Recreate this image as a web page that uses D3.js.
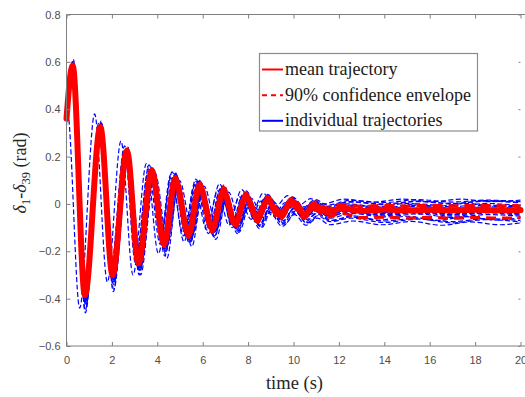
<!DOCTYPE html>
<html>
<head>
<meta charset="utf-8">
<script src="https://cdn.jsdelivr.net/npm/d3@7/dist/d3.min.js"></script>
<style>
  html, body { margin: 0; padding: 0; background: #fff; }
  svg { display: block; }
</style>
</head>
<body>
<svg id="chart" width="525" height="397"></svg>
<script>
// Rotor angle difference δ1-δ39 after the disturbance: mean, 90% envelope and sampled runs.
// Each series is a list of [time (s), angle (rad)] turning points.

const xTicks = [0, 2, 4, 6, 8, 10, 12, 14, 16, 18, 20];
const yTicks = [-0.6, -0.4, -0.2, 0, 0.2, 0.4, 0.6, 0.8];

const meanTrajectory = [[0,0.36],[0.27,0.585],[0.81,-0.385],[1.49,0.325],[2.03,-0.30],[2.66,0.225],[3.17,-0.25],[3.76,0.14],[4.3,-0.17],[4.79,0.105],[5.38,-0.13],[5.86,0.08],[6.42,-0.105],[6.92,0.055],[7.43,-0.085],[7.9,0.03],[8.42,-0.06],[8.85,0.015],[9.4,-0.048],[9.95,0.01],[10.45,-0.042],[10.95,-0.008],[11.5,-0.036],[12.1,-0.018],[13,-0.03],[14,-0.024],[15,-0.028],[16,-0.025],[17,-0.027],[18,-0.025],[19,-0.027],[20,-0.026]];

const upperEnvelope = [[0,0.365],[0.27,0.59],[0.81,-0.378],[1.49,0.332],[2.03,-0.292],[2.66,0.232],[3.17,-0.242],[3.76,0.148],[4.3,-0.16],[4.79,0.115],[5.38,-0.118],[5.86,0.092],[6.42,-0.09],[6.92,0.07],[7.43,-0.068],[7.9,0.046],[8.42,-0.042],[8.85,0.032],[9.4,-0.03],[9.95,0.026],[10.45,-0.024],[10.95,0.008],[11.5,-0.018],[12.1,-0.002],[13,-0.01],[14,-0.006],[15,-0.009],[16,-0.006],[17,-0.008],[18,-0.006],[19,-0.008],[20,-0.007]];

const lowerEnvelope = [[0,0.355],[0.27,0.58],[0.81,-0.392],[1.49,0.318],[2.03,-0.308],[2.66,0.218],[3.17,-0.258],[3.76,0.132],[4.3,-0.18],[4.79,0.095],[5.38,-0.142],[5.86,0.068],[6.42,-0.12],[6.92,0.04],[7.43,-0.102],[7.9,0.014],[8.42,-0.078],[8.85,-0.002],[9.4,-0.066],[9.95,-0.008],[10.45,-0.06],[10.95,-0.026],[11.5,-0.056],[12.1,-0.04],[13,-0.058],[14,-0.056],[15,-0.06],[16,-0.057],[17,-0.06],[18,-0.058],[19,-0.06],[20,-0.059]];

const run01 = [[0,0.33],[0.04,0.39],[0.58,-0.44],[1.24,0.38],[1.8,-0.33],[2.4,0.265],[2.93,-0.30],[3.52,0.17],[4.05,-0.21],[4.6,0.125],[5.18,-0.16],[5.7,0.095],[6.25,-0.125],[6.78,0.065],[7.3,-0.10],[7.8,0.045],[8.3,-0.075],[8.8,0.025],[9.3,-0.065],[9.85,0.012],[10.4,-0.055],[10.95,-0.005],[11.55,-0.05],[12.3,-0.015],[13.3,-0.045],[14.4,-0.02],[15.6,-0.042],[16.8,-0.022],[18,-0.04],[19.2,-0.025],[20,-0.035]];
const run02 = [[0,0.36],[0.3,0.61],[0.84,-0.43],[1.53,0.35],[2.07,-0.34],[2.7,0.24],[3.21,-0.28],[3.8,0.15],[4.34,-0.2],[4.84,0.12],[5.43,-0.155],[5.9,0.09],[6.47,-0.125],[6.97,0.06],[7.48,-0.1],[7.95,0.035],[8.47,-0.075],[8.9,0.01],[9.45,-0.065],[10.0,0.0],[10.5,-0.06],[11.0,-0.02],[11.55,-0.055],[12.5,-0.03],[14,-0.05],[15.5,-0.035],[17,-0.052],[18.5,-0.038],[20,-0.048]];
const run03 = [[0,0.36],[0.25,0.575],[0.78,-0.37],[1.46,0.31],[2.0,-0.28],[2.62,0.21],[3.14,-0.23],[3.72,0.13],[4.26,-0.15],[4.75,0.095],[5.34,-0.115],[5.82,0.07],[6.38,-0.09],[6.88,0.05],[7.39,-0.07],[7.86,0.035],[8.38,-0.05],[8.82,0.02],[9.36,-0.038],[9.9,0.015],[10.4,-0.032],[10.9,0.0],[11.45,-0.025],[12.5,-0.005],[14,-0.015],[15.5,0.0],[17,-0.012],[18.5,0.002],[20,-0.008]];
const run04 = [[0,0.36],[0.28,0.59],[0.8,-0.39],[1.5,0.33],[2.04,-0.3],[2.67,0.23],[3.18,-0.245],[3.77,0.145],[4.31,-0.16],[4.8,0.115],[5.39,-0.12],[5.87,0.09],[6.43,-0.09],[6.93,0.07],[7.44,-0.07],[7.92,0.045],[8.43,-0.045],[8.87,0.03],[9.42,-0.03],[9.97,0.025],[10.47,-0.022],[10.97,0.01],[11.5,-0.015],[12.5,0.008],[14,-0.003],[15.5,0.01],[17,0.0],[18.5,0.012],[20,0.004]];
const run05 = [[0,0.36],[0.31,0.6],[0.86,-0.41],[1.56,0.32],[2.1,-0.32],[2.73,0.21],[3.24,-0.27],[3.83,0.125],[4.38,-0.185],[4.87,0.09],[5.46,-0.15],[5.94,0.06],[6.5,-0.125],[7.0,0.035],[7.5,-0.11],[7.98,0.005],[8.5,-0.09],[8.93,-0.015],[9.48,-0.08],[10.03,-0.02],[10.53,-0.075],[11.03,-0.04],[11.6,-0.07],[12.5,-0.055],[14,-0.072],[15.5,-0.06],[17,-0.075],[18.5,-0.062],[20,-0.07]];
const run06 = [[0,0.36],[0.24,0.57],[0.76,-0.4],[1.43,0.32],[1.97,-0.31],[2.58,0.22],[3.1,-0.26],[3.68,0.135],[4.22,-0.175],[4.71,0.1],[5.3,-0.14],[5.77,0.075],[6.33,-0.11],[6.83,0.05],[7.34,-0.09],[7.8,0.025],[8.32,-0.068],[8.76,0.008],[9.3,-0.055],[9.86,0.0],[10.36,-0.05],[10.86,-0.015],[11.4,-0.045],[12.5,-0.02],[14,-0.04],[15.5,-0.025],[17,-0.042],[18.5,-0.028],[20,-0.038]];
const run07 = [[0,0.36],[0.27,0.58],[0.82,-0.38],[1.5,0.32],[2.05,-0.305],[2.68,0.225],[3.19,-0.255],[3.78,0.14],[4.32,-0.18],[4.81,0.12],[5.4,-0.14],[5.88,0.095],[6.45,-0.115],[6.95,0.065],[7.46,-0.095],[7.93,0.04],[8.45,-0.07],[8.88,0.02],[9.43,-0.058],[9.98,0.012],[10.48,-0.05],[10.98,-0.01],[11.52,-0.042],[12.5,-0.018],[14,-0.03],[15.5,-0.018],[17,-0.033],[18.5,-0.02],[20,-0.03]];
const run08 = [[0,0.36],[0.29,0.59],[0.83,-0.395],[1.52,0.33],[2.08,-0.31],[2.72,0.22],[3.25,-0.26],[3.85,0.13],[4.4,-0.175],[4.9,0.1],[5.5,-0.14],[5.98,0.07],[6.55,-0.115],[7.05,0.045],[7.56,-0.095],[8.04,0.02],[8.56,-0.08],[9.0,-0.005],[9.55,-0.07],[10.1,-0.01],[10.6,-0.065],[11.1,-0.03],[11.65,-0.06],[12.5,-0.04],[14,-0.055],[15.5,-0.042],[17,-0.058],[18.5,-0.045],[20,-0.052]];
const run09 = [[0,0.36],[0.26,0.585],[0.79,-0.38],[1.45,0.33],[1.99,-0.29],[2.62,0.23],[3.13,-0.24],[3.71,0.15],[4.25,-0.16],[4.74,0.115],[5.33,-0.12],[5.81,0.085],[6.37,-0.095],[6.86,0.06],[7.37,-0.075],[7.84,0.04],[8.36,-0.05],[8.79,0.025],[9.34,-0.04],[9.89,0.018],[10.39,-0.035],[10.89,0.002],[11.43,-0.028],[12.5,-0.008],[14,-0.02],[15.5,-0.006],[17,-0.018],[18.5,-0.005],[20,-0.015]];
const run10 = [[0,0.36],[0.29,0.6],[0.83,-0.46],[1.52,0.34],[2.06,-0.37],[2.69,0.235],[3.2,-0.3],[3.79,0.145],[4.33,-0.22],[4.82,0.11],[5.41,-0.165],[5.89,0.08],[6.45,-0.13],[6.95,0.055],[7.46,-0.105],[7.93,0.03],[8.45,-0.08],[8.88,0.01],[9.43,-0.065],[9.98,0.005],[10.48,-0.058],[10.98,-0.02],[11.53,-0.05],[12.5,-0.035],[14,-0.046],[15.5,-0.032],[17,-0.047],[18.5,-0.034],[20,-0.044]];
const run11 = [[0,0.36],[0.26,0.58],[0.8,-0.375],[1.47,0.33],[2.01,-0.29],[2.64,0.235],[3.15,-0.235],[3.74,0.155],[4.28,-0.15],[4.77,0.125],[5.36,-0.11],[5.84,0.095],[6.4,-0.08],[6.9,0.075],[7.4,-0.06],[7.88,0.05],[8.39,-0.04],[8.83,0.035],[9.38,-0.025],[9.93,0.028],[10.43,-0.018],[10.93,0.012],[11.47,-0.01],[12.5,0.01],[14,0.0],[15.5,0.012],[17,0.002],[18.5,0.014],[20,0.006]];
const run12 = [[0,0.36],[0.3,0.595],[0.85,-0.42],[1.54,0.31],[2.09,-0.33],[2.72,0.2],[3.24,-0.28],[3.83,0.115],[4.38,-0.2],[4.88,0.08],[5.47,-0.16],[5.95,0.05],[6.52,-0.135],[7.02,0.025],[7.53,-0.115],[8.0,0.0],[8.52,-0.095],[8.96,-0.02],[9.51,-0.085],[10.06,-0.03],[10.56,-0.08],[11.06,-0.05],[11.62,-0.075],[12.5,-0.06],[14,-0.078],[15.5,-0.064],[17,-0.08],[18.5,-0.066],[20,-0.076]];
const run13 = [[0,0.36],[0.27,0.59],[0.81,-0.4],[1.48,0.315],[2.02,-0.31],[2.65,0.215],[3.16,-0.26],[3.75,0.13],[4.29,-0.175],[4.78,0.1],[5.37,-0.135],[5.85,0.075],[6.41,-0.11],[6.91,0.05],[7.42,-0.09],[7.89,0.025],[8.41,-0.065],[8.84,0.012],[9.39,-0.052],[9.94,0.006],[10.44,-0.046],[10.94,-0.012],[11.49,-0.04],[12.5,-0.024],[14,-0.036],[15.5,-0.022],[17,-0.036],[18.5,-0.024],[20,-0.032]];
const run14 = [[0,0.36],[0.3,0.6],[0.84,-0.4],[1.51,0.345],[2.05,-0.32],[2.69,0.24],[3.2,-0.265],[3.8,0.15],[4.34,-0.19],[4.83,0.125],[5.42,-0.145],[5.9,0.09],[6.47,-0.115],[6.97,0.065],[7.48,-0.09],[7.96,0.04],[8.48,-0.06],[8.92,0.02],[9.47,-0.045],[10.02,0.015],[10.52,-0.038],[11.02,0.0],[11.57,-0.03],[12.5,-0.012],[14,-0.024],[15.5,-0.01],[17,-0.024],[18.5,-0.012],[20,-0.02]];
const run15 = [[0,0.36],[0.26,0.58],[0.79,-0.39],[1.46,0.32],[1.99,-0.3],[2.6,0.22],[3.1,-0.255],[3.67,0.14],[4.2,-0.17],[4.68,0.11],[5.26,-0.135],[5.73,0.085],[6.29,-0.105],[6.78,0.06],[7.28,-0.085],[7.75,0.035],[8.27,-0.06],[8.7,0.02],[9.25,-0.05],[9.8,0.01],[10.3,-0.045],[10.8,-0.005],[11.35,-0.04],[12.5,-0.022],[14,-0.042],[15.5,-0.03],[17,-0.045],[18.5,-0.032],[20,-0.042]];
const run16 = [[0,0.36],[0.28,0.595],[0.82,-0.37],[1.5,0.335],[2.04,-0.285],[2.67,0.235],[3.18,-0.23],[3.77,0.155],[4.31,-0.145],[4.8,0.13],[5.39,-0.1],[5.87,0.1],[6.43,-0.075],[6.93,0.08],[7.44,-0.055],[7.91,0.055],[8.43,-0.035],[8.86,0.04],[9.41,-0.02],[9.96,0.03],[10.46,-0.012],[10.96,0.018],[11.5,-0.005],[12.5,0.015],[14,0.006],[15.5,0.018],[17,0.008],[18.5,0.016],[20,0.01]];
const run17 = [[0,0.36],[0.28,0.6],[0.82,-0.45],[1.52,0.33],[2.08,-0.36],[2.72,0.2],[3.26,-0.3],[3.86,0.12],[4.42,-0.23],[4.93,0.085],[5.52,-0.18],[6.0,0.055],[6.58,-0.15],[7.08,0.03],[7.6,-0.12],[8.08,0.0],[8.6,-0.1],[9.05,-0.02],[9.6,-0.085],[10.15,-0.03],[10.65,-0.08],[11.15,-0.045],[11.7,-0.07],[12.6,-0.05],[13.8,-0.068],[15,-0.052],[16.3,-0.07],[17.6,-0.054],[18.9,-0.068],[20,-0.058]];
const run18 = [[0,0.36],[0.24,0.59],[0.77,-0.36],[1.42,0.34],[1.95,-0.27],[2.56,0.245],[3.07,-0.215],[3.64,0.165],[4.17,-0.13],[4.65,0.135],[5.23,-0.09],[5.7,0.105],[6.25,-0.065],[6.74,0.085],[7.24,-0.045],[7.72,0.06],[8.22,-0.025],[8.66,0.045],[9.2,-0.012],[9.75,0.035],[10.25,-0.005],[10.75,0.022],[11.3,0.0],[12.2,0.02],[13.5,0.008],[14.8,0.02],[16.1,0.01],[17.4,0.02],[18.7,0.01],[20,0.016]];
const run19 = [[0,0.36],[0.28,0.585],[0.83,-0.39],[1.52,0.32],[2.08,-0.31],[2.74,0.215],[3.28,-0.245],[3.9,0.13],[4.46,-0.165],[4.97,0.1],[5.57,-0.125],[6.06,0.075],[6.63,-0.1],[7.14,0.05],[7.65,-0.08],[8.13,0.025],[8.65,-0.058],[9.1,0.01],[9.65,-0.05],[10.2,0.0],[10.7,-0.045],[11.2,-0.015],[11.75,-0.04],[12.7,-0.02],[14,-0.035],[15.3,-0.02],[16.6,-0.036],[17.9,-0.022],[19.2,-0.034],[20,-0.026]];
const run20 = [[0,0.36],[0.29,0.59],[0.84,-0.41],[1.53,0.32],[2.08,-0.325],[2.71,0.205],[3.23,-0.275],[3.82,0.12],[4.37,-0.195],[4.87,0.085],[5.46,-0.16],[5.94,0.045],[6.51,-0.14],[7.01,0.015],[7.52,-0.125],[7.99,-0.015],[8.51,-0.105],[8.95,-0.035],[9.5,-0.095],[10.05,-0.045],[10.55,-0.09],[11.05,-0.06],[11.6,-0.088],[12.6,-0.072],[13.9,-0.088],[15.2,-0.074],[16.5,-0.09],[17.8,-0.076],[19.1,-0.088],[20,-0.08]];
const run21 = [[0,0.36],[0.25,0.58],[0.77,-0.385],[1.43,0.325],[1.95,-0.3],[2.55,0.225],[3.04,-0.25],[3.61,0.14],[4.13,-0.17],[4.6,0.11],[5.17,-0.135],[5.63,0.08],[6.18,-0.11],[6.66,0.055],[7.16,-0.09],[7.62,0.03],[8.13,-0.065],[8.56,0.012],[9.1,-0.052],[9.65,0.006],[10.15,-0.046],[10.65,-0.01],[11.2,-0.04],[12.1,-0.02],[13.4,-0.035],[14.7,-0.018],[16,-0.034],[17.3,-0.02],[18.6,-0.034],[20,-0.024]];
const run22 = [[0,0.36],[0.27,0.585],[0.81,-0.375],[1.49,0.33],[2.03,-0.29],[2.66,0.23],[3.17,-0.24],[3.76,0.15],[4.3,-0.155],[4.79,0.12],[5.38,-0.115],[5.86,0.09],[6.42,-0.088],[6.92,0.068],[7.43,-0.068],[7.9,0.045],[8.42,-0.045],[8.85,0.03],[9.4,-0.032],[9.95,0.022],[10.45,-0.025],[10.95,0.006],[11.5,-0.02],[12.4,0.0],[13.7,-0.012],[15,0.002],[16.3,-0.01],[17.6,0.002],[18.9,-0.01],[20,-0.004]];

const individualRuns = [run01, run02, run03, run04, run05, run06, run07, run08, run09, run10, run11,
                        run12, run13, run14, run15, run16, run17, run18, run19, run20, run21, run22];

const legendItems = [
  { label: "mean trajectory", color: "#ff0000", dash: null },
  { label: "90% confidence envelope", color: "#ff0000", dash: "5,4" },
  { label: "individual trajectories", color: "#0000ff", dash: null }
];

// ---- layout ----
const svg = d3.select("#chart");
const W = 525, H = 397;
const plotLeft = 66.5, plotRight = 520.5, plotTop = 14.5, plotBottom = 346;

const x = d3.scaleLinear().domain([0, 20]).range([plotLeft, plotRight]);
const y = d3.scaleLinear().domain([-0.6, 0.8]).range([plotBottom, plotTop]);

const axisColor = "#7f7f7f";
const labelColor = "#4d4d4d";
const serif = "'Liberation Serif', 'Times New Roman', serif";

const line = d3.line()
  .x(d => x(d[0]))
  .y(d => y(d[1]))
  .curve(d3.curveMonotoneX);

const plot = svg.append("g");

// sampled runs, thin dashed blue
plot.selectAll("path.run")
  .data(individualRuns)
  .join("path")
  .attr("class", "run")
  .attr("d", line)
  .attr("fill", "none")
  .attr("stroke", "#0000ff")
  .attr("stroke-width", 1.2)
  .attr("stroke-dasharray", "5,2.5");

// 90% envelope
plot.selectAll("path.env")
  .data([upperEnvelope, lowerEnvelope])
  .join("path")
  .attr("class", "env")
  .attr("d", line)
  .attr("fill", "none")
  .attr("stroke", "#ff0000")
  .attr("stroke-width", 3.2)
  .attr("stroke-dasharray", "10,6");

// mean
plot.append("path")
  .attr("d", line(meanTrajectory))
  .attr("fill", "none")
  .attr("stroke", "#ff0000")
  .attr("stroke-width", 6)
  .attr("stroke-linejoin", "round")
  .attr("stroke-linecap", "round");

// ---- axes (ticks pointing inward, box style) ----
const styleAxis = g => {
  g.selectAll(".domain").remove();
  g.selectAll(".tick line").attr("stroke", axisColor);
  g.selectAll(".tick text")
    .attr("fill", labelColor)
    .style("font-family", "Arial, 'Liberation Sans', sans-serif")
    .style("font-size", "11px");
};

svg.append("g")
  .attr("transform", `translate(0,${plotBottom})`)
  .call(d3.axisBottom(x).tickValues(xTicks).tickFormat(d3.format("d"))
        .tickSizeInner(-4).tickSizeOuter(0).tickPadding(10))
  .call(styleAxis);

svg.append("g")
  .attr("transform", `translate(0,${plotTop})`)
  .call(d3.axisTop(x).tickValues(xTicks).tickFormat("")
        .tickSizeInner(-4).tickSizeOuter(0))
  .call(styleAxis);

svg.append("g")
  .attr("transform", `translate(${plotLeft},0)`)
  .call(d3.axisLeft(y).tickValues(yTicks).tickFormat(d => d === 0 ? "0" : d3.format(".1f")(d))
        .tickSizeInner(-4).tickSizeOuter(0).tickPadding(6))
  .call(styleAxis);

svg.append("g")
  .attr("transform", `translate(${plotRight},0)`)
  .call(d3.axisRight(y).tickValues(yTicks).tickFormat("")
        .tickSizeInner(-2).tickSizeOuter(0))
  .call(styleAxis);

// frame lines
svg.append("line")
  .attr("x1", plotLeft).attr("x2", W).attr("y1", plotTop).attr("y2", plotTop)
  .attr("stroke", axisColor);
svg.append("line")
  .attr("x1", plotLeft).attr("x2", W).attr("y1", plotBottom).attr("y2", plotBottom)
  .attr("stroke", axisColor);
svg.append("line")
  .attr("x1", plotLeft).attr("x2", plotLeft).attr("y1", plotTop).attr("y2", plotBottom)
  .attr("stroke", axisColor);

// ---- axis titles ----
svg.append("text")
  .attr("x", (plotLeft + plotRight) / 2 + 1)
  .attr("y", 389)
  .attr("text-anchor", "middle")
  .attr("fill", "#262626")
  .style("font-family", serif)
  .style("font-size", "18.5px")
  .text("time (s)");

const yTitle = svg.append("text")
  .attr("transform", "translate(26,173) rotate(-90)")
  .attr("text-anchor", "middle")
  .attr("fill", "#262626")
  .style("font-family", serif)
  .style("font-size", "18px");
yTitle.append("tspan").style("font-style", "italic").text("δ");
yTitle.append("tspan").attr("dy", 4).style("font-size", "12.5px").text("1");
yTitle.append("tspan").attr("dy", -4).text("-");
yTitle.append("tspan").style("font-style", "italic").text("δ");
yTitle.append("tspan").attr("dy", 4).style("font-size", "12.5px").text("39");
yTitle.append("tspan").attr("dy", -4).text(" (rad)");

// ---- legend ----
const lg = svg.append("g");
lg.append("rect")
  .attr("x", 259.5).attr("y", 53.5)
  .attr("width", 218).attr("height", 77.5)
  .attr("fill", "#fff")
  .attr("stroke", "#8c8c8c")
  .attr("stroke-width", 1.2);

const rowBase = [75, 100.8, 126.3];
const rows = lg.selectAll("g.row")
  .data(legendItems)
  .join("g")
  .attr("class", "row")
  .attr("transform", (d, i) => `translate(0,${rowBase[i]})`);

rows.append("line")
  .attr("x1", 262).attr("x2", 283)
  .attr("y1", -5.5).attr("y2", -5.5)
  .attr("stroke", d => d.color)
  .attr("stroke-width", 2)
  .attr("stroke-dasharray", d => d.dash);

rows.append("text")
  .attr("x", 285)
  .attr("y", 0)
  .attr("fill", "#1a1a1a")
  .style("font-family", serif)
  .style("font-size", "18px")
  .text(d => d.label);
</script>
</body>
</html>
